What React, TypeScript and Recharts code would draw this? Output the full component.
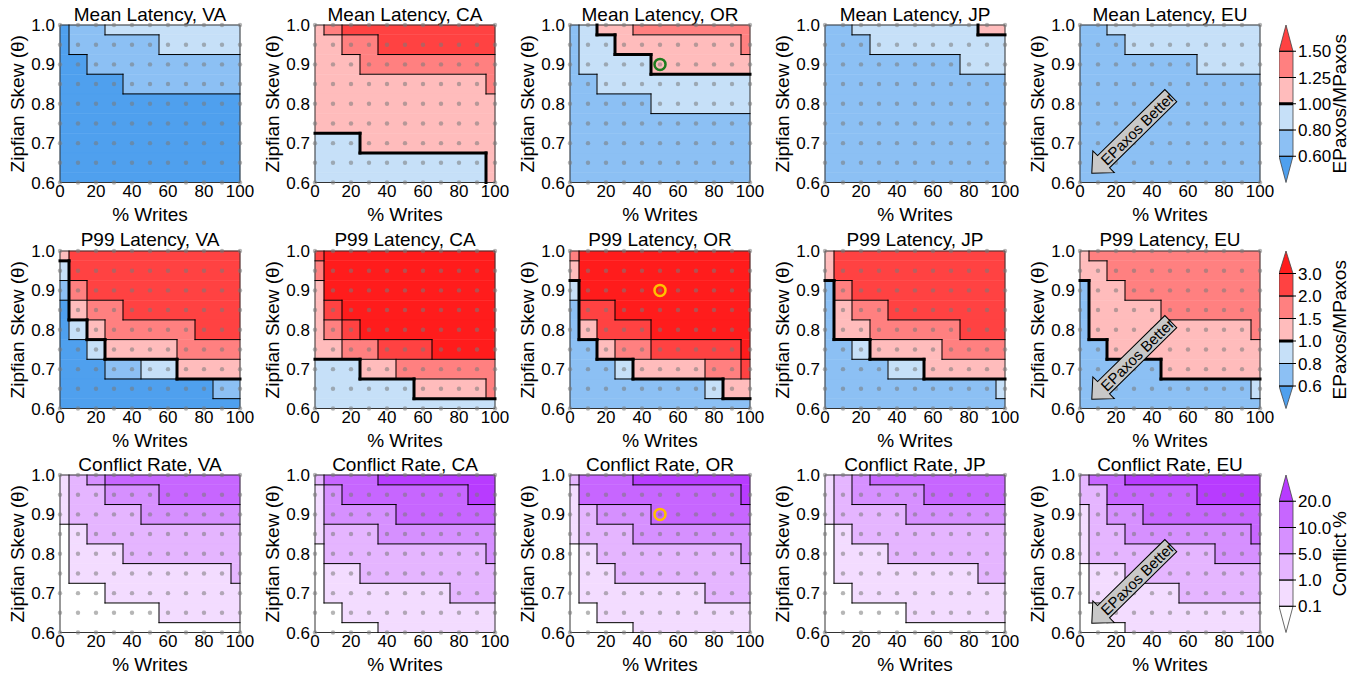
import React from 'react';
import {
  ScatterChart,
  Scatter,
  XAxis,
  YAxis,
  ReferenceArea,
  ReferenceLine,
  ReferenceDot,
  BarChart,
  Bar,
} from 'recharts';

const writes = [0, 10, 20, 30, 40, 50, 60, 70, 80, 90, 100];
const skews = [1.0, 0.95, 0.9, 0.85, 0.8, 0.75, 0.7, 0.65, 0.6];
const xTicks = [0, 20, 40, 60, 80, 100];
const yTicks = [0.6, 0.7, 0.8, 0.9, 1.0];
const regions = ['VA', 'CA', 'OR', 'JP', 'EU'];
const metrics = ['Mean Latency', 'P99 Latency', 'Conflict Rate'];

// band index of each cell, rows from skew 1.0 down to 0.6, columns 0..100 % writes
const meanVA = [
  [0, 1, 1, 2, 2, 2, 2, 2, 2, 2, 2],
  [0, 1, 1, 1, 1, 1, 2, 2, 2, 2, 2],
  [0, 0, 1, 1, 1, 1, 1, 1, 1, 1, 1],
  [0, 0, 0, 0, 1, 1, 1, 1, 1, 1, 1],
  [0, 0, 0, 0, 0, 0, 0, 0, 0, 0, 0],
  [0, 0, 0, 0, 0, 0, 0, 0, 0, 0, 0],
  [0, 0, 0, 0, 0, 0, 0, 0, 0, 0, 0],
  [0, 0, 0, 0, 0, 0, 0, 0, 0, 0, 0],
  [0, 0, 0, 0, 0, 0, 0, 0, 0, 0, 0],
];
const meanCA = [
  [3, 4, 5, 5, 5, 5, 5, 5, 5, 5, 5],
  [3, 3, 4, 4, 5, 5, 5, 5, 5, 5, 5],
  [3, 3, 3, 4, 4, 4, 4, 4, 4, 4, 4],
  [3, 3, 3, 3, 3, 3, 3, 3, 3, 3, 4],
  [3, 3, 3, 3, 3, 3, 3, 3, 3, 3, 3],
  [3, 3, 3, 3, 3, 3, 3, 3, 3, 3, 3],
  [2, 2, 2, 3, 3, 3, 3, 3, 3, 3, 3],
  [2, 2, 2, 2, 2, 2, 2, 2, 2, 2, 3],
  [2, 2, 2, 2, 2, 2, 2, 2, 2, 2, 3],
];
const meanOR = [
  [1, 2, 3, 3, 4, 4, 4, 4, 4, 4, 4],
  [1, 2, 2, 3, 3, 3, 3, 3, 3, 3, 4],
  [1, 2, 2, 2, 2, 3, 3, 3, 3, 3, 3],
  [1, 1, 2, 2, 2, 2, 2, 2, 2, 2, 2],
  [1, 1, 1, 1, 1, 2, 2, 2, 2, 2, 2],
  [1, 1, 1, 1, 1, 1, 1, 1, 1, 1, 1],
  [1, 1, 1, 1, 1, 1, 1, 1, 1, 1, 1],
  [1, 1, 1, 1, 1, 1, 1, 1, 1, 1, 1],
  [1, 1, 1, 1, 1, 1, 1, 1, 1, 1, 1],
];
const meanJP = [
  [1, 1, 2, 2, 2, 2, 2, 2, 2, 3, 3],
  [1, 1, 1, 2, 2, 2, 2, 2, 2, 2, 2],
  [1, 1, 1, 1, 1, 1, 1, 1, 2, 2, 2],
  [1, 1, 1, 1, 1, 1, 1, 1, 1, 1, 1],
  [1, 1, 1, 1, 1, 1, 1, 1, 1, 1, 1],
  [1, 1, 1, 1, 1, 1, 1, 1, 1, 1, 1],
  [1, 1, 1, 1, 1, 1, 1, 1, 1, 1, 1],
  [1, 1, 1, 1, 1, 1, 1, 1, 1, 1, 1],
  [1, 1, 1, 1, 1, 1, 1, 1, 1, 1, 1],
];
const meanEU = [
  [1, 1, 2, 2, 2, 2, 2, 2, 2, 2, 2],
  [1, 1, 1, 2, 2, 2, 2, 2, 2, 2, 2],
  [1, 1, 1, 1, 1, 1, 1, 2, 2, 2, 2],
  [1, 1, 1, 1, 1, 1, 1, 1, 1, 1, 1],
  [1, 1, 1, 1, 1, 1, 1, 1, 1, 1, 1],
  [1, 1, 1, 1, 1, 1, 1, 1, 1, 1, 1],
  [1, 1, 1, 1, 1, 1, 1, 1, 1, 1, 1],
  [1, 1, 1, 1, 1, 1, 1, 1, 1, 1, 1],
  [1, 1, 1, 1, 1, 1, 1, 1, 1, 1, 1],
];

const p99VA = [
  [3, 5, 5, 5, 5, 5, 5, 5, 5, 5, 5],
  [2, 5, 5, 5, 5, 5, 5, 5, 5, 5, 5],
  [1, 4, 5, 5, 5, 5, 5, 5, 5, 5, 5],
  [0, 3, 4, 4, 5, 5, 5, 5, 5, 5, 5],
  [0, 2, 3, 4, 4, 4, 4, 4, 5, 5, 5],
  [0, 0, 2, 3, 3, 3, 3, 4, 4, 4, 4],
  [0, 0, 0, 1, 1, 2, 2, 3, 3, 3, 3],
  [0, 0, 0, 0, 0, 0, 0, 0, 0, 1, 1],
  [0, 0, 0, 0, 0, 0, 0, 0, 0, 0, 0],
];
const p99CA = [
  [5, 6, 6, 6, 6, 6, 6, 6, 6, 6, 6],
  [4, 6, 6, 6, 6, 6, 6, 6, 6, 6, 6],
  [3, 6, 6, 6, 6, 6, 6, 6, 6, 6, 6],
  [3, 5, 6, 6, 6, 6, 6, 6, 6, 6, 6],
  [3, 4, 5, 6, 6, 6, 6, 6, 6, 6, 6],
  [3, 3, 4, 4, 5, 5, 5, 6, 6, 6, 6],
  [2, 2, 2, 3, 3, 4, 4, 4, 4, 4, 4],
  [2, 2, 2, 2, 2, 2, 3, 3, 3, 3, 4],
  [2, 2, 2, 2, 2, 2, 2, 2, 2, 2, 2],
];
const p99OR = [
  [4, 6, 6, 6, 6, 6, 6, 6, 6, 6, 6],
  [3, 6, 6, 6, 6, 6, 6, 6, 6, 6, 6],
  [2, 6, 6, 6, 6, 6, 6, 6, 6, 6, 6],
  [1, 5, 5, 6, 6, 6, 6, 6, 6, 6, 6],
  [1, 3, 5, 5, 5, 6, 6, 6, 6, 6, 6],
  [1, 1, 3, 4, 4, 5, 5, 5, 5, 5, 6],
  [1, 1, 1, 2, 3, 3, 3, 3, 4, 4, 5],
  [1, 1, 1, 1, 1, 1, 1, 1, 2, 3, 3],
  [1, 1, 1, 1, 1, 1, 1, 1, 1, 1, 1],
];
const p99JP = [
  [3, 5, 5, 5, 5, 5, 5, 5, 5, 5, 5],
  [3, 5, 5, 5, 5, 5, 5, 5, 5, 5, 5],
  [1, 4, 5, 5, 5, 5, 5, 5, 5, 5, 5],
  [1, 3, 4, 4, 5, 5, 5, 5, 5, 5, 5],
  [1, 3, 3, 4, 4, 4, 4, 4, 5, 5, 5],
  [1, 1, 2, 3, 3, 3, 3, 4, 4, 4, 4],
  [1, 1, 1, 1, 2, 2, 3, 3, 3, 3, 3],
  [1, 1, 1, 1, 1, 1, 1, 1, 1, 1, 2],
  [1, 1, 1, 1, 1, 1, 1, 1, 1, 1, 1],
];
const p99EU = [
  [3, 4, 4, 4, 4, 4, 4, 4, 4, 4, 4],
  [3, 3, 4, 4, 4, 4, 4, 4, 4, 4, 4],
  [1, 3, 3, 4, 4, 4, 4, 4, 4, 4, 4],
  [1, 3, 3, 3, 3, 4, 4, 4, 4, 4, 4],
  [1, 3, 3, 3, 3, 3, 3, 3, 3, 3, 4],
  [1, 1, 3, 3, 3, 3, 3, 3, 3, 3, 3],
  [1, 1, 1, 1, 1, 3, 3, 3, 3, 3, 3],
  [1, 1, 1, 1, 1, 1, 1, 1, 1, 1, 2],
  [1, 1, 1, 1, 1, 1, 1, 1, 1, 1, 1],
];

const conflictVA = [
  [1, 2, 3, 4, 4, 4, 4, 4, 4, 4, 4],
  [1, 2, 2, 3, 3, 3, 4, 4, 4, 4, 4],
  [1, 2, 2, 2, 2, 3, 3, 3, 3, 3, 3],
  [0, 1, 2, 2, 2, 2, 2, 2, 2, 2, 2],
  [0, 1, 1, 1, 2, 2, 2, 2, 2, 2, 2],
  [0, 1, 1, 1, 1, 1, 1, 1, 1, 1, 2],
  [0, 0, 0, 1, 1, 1, 1, 1, 1, 1, 1],
  [0, 0, 0, 0, 0, 0, 1, 1, 1, 1, 1],
  [0, 0, 0, 0, 0, 0, 0, 0, 0, 0, 0],
];
const conflictCA = [
  [2, 4, 4, 4, 5, 5, 5, 5, 5, 5, 5],
  [1, 3, 4, 4, 4, 4, 4, 4, 4, 5, 5],
  [1, 3, 3, 3, 3, 4, 4, 4, 4, 4, 4],
  [1, 2, 2, 2, 3, 3, 3, 3, 3, 3, 3],
  [0, 2, 2, 2, 2, 2, 2, 2, 2, 2, 3],
  [0, 1, 1, 2, 2, 2, 2, 2, 2, 2, 2],
  [0, 1, 1, 1, 1, 1, 1, 1, 2, 2, 2],
  [0, 0, 1, 1, 1, 1, 1, 1, 1, 1, 1],
  [0, 0, 0, 0, 1, 1, 1, 1, 1, 1, 1],
];
const conflictOR = [
  [2, 4, 4, 4, 5, 5, 5, 5, 5, 5, 5],
  [1, 4, 4, 4, 4, 4, 4, 4, 4, 4, 5],
  [1, 2, 3, 3, 3, 4, 4, 4, 4, 4, 4],
  [1, 2, 2, 2, 3, 3, 3, 3, 3, 3, 3],
  [0, 1, 2, 2, 2, 2, 2, 2, 2, 2, 3],
  [0, 1, 1, 2, 2, 2, 2, 2, 2, 2, 2],
  [0, 1, 1, 1, 1, 1, 1, 1, 2, 2, 2],
  [0, 0, 1, 1, 1, 1, 1, 1, 1, 1, 1],
  [0, 0, 0, 0, 1, 1, 1, 1, 1, 1, 1],
];
const conflictJP = [
  [1, 2, 3, 4, 4, 4, 4, 4, 4, 4, 4],
  [1, 2, 3, 3, 3, 3, 4, 4, 4, 4, 4],
  [1, 2, 2, 2, 2, 3, 3, 3, 3, 3, 3],
  [0, 1, 2, 2, 2, 2, 2, 2, 2, 2, 2],
  [0, 1, 1, 1, 2, 2, 2, 2, 2, 2, 2],
  [0, 1, 1, 1, 1, 1, 1, 1, 1, 2, 2],
  [0, 0, 1, 1, 1, 1, 1, 1, 1, 1, 1],
  [0, 0, 0, 0, 0, 1, 1, 1, 1, 1, 1],
  [0, 0, 0, 0, 0, 0, 0, 0, 0, 0, 0],
];
const conflictEU = [
  [2, 4, 4, 5, 5, 5, 5, 5, 5, 5, 5],
  [2, 2, 4, 4, 4, 4, 4, 5, 5, 5, 5],
  [1, 2, 3, 3, 4, 4, 4, 4, 4, 4, 4],
  [1, 2, 2, 3, 3, 3, 3, 3, 3, 3, 4],
  [1, 2, 2, 2, 2, 2, 2, 2, 3, 3, 3],
  [0, 1, 1, 2, 2, 2, 2, 2, 2, 2, 2],
  [0, 1, 1, 1, 1, 1, 2, 2, 2, 2, 2],
  [0, 0, 1, 1, 1, 1, 1, 1, 1, 1, 1],
  [0, 0, 0, 1, 1, 1, 1, 1, 1, 1, 1],
];

const meanColors = ['#4fa0ee', '#8cc0f4', '#c6e0f8', '#ffbcbc', '#ff8080', '#ff4242'];
const p99Colors = ['#4fa0ee', '#8cc0f4', '#c6e0f8', '#ffbcbc', '#ff8080', '#ff4242', '#ff1c1c'];
const conflictColors = ['#ffffff', '#f3dcff', '#e5b5ff', '#d690ff', '#c766ff', '#b83bff'];

const meanTicks = ['0.60', '0.80', '1.00', '1.25', '1.50'];
const p99Ticks = ['0.6', '0.8', '1.0', '1.5', '2.0', '3.0'];
const conflictTicks = ['0.1', '1.0', '5.0', '10.0', '20.0'];

const ringColors = ['#1e7b1e', '#ffc000', '#ffc000'];

const PLOT_H = 157.5;
const TOP_PAD = 12;
const rowTops = [25, 250.5, 475];
const colLefts = [60, 315, 570, 825, 1080];
const FONT = "'Liberation Sans', Arial, Helvetica, sans-serif";

const rows = [
  { grids: [meanVA, meanCA, meanOR, meanJP, meanEU], colors: meanColors, thickAt: 3, ticks: meanTicks, unit: 'EPaxos/MPaxos' },
  { grids: [p99VA, p99CA, p99OR, p99JP, p99EU], colors: p99Colors, thickAt: 3, ticks: p99Ticks, unit: 'EPaxos/MPaxos' },
  { grids: [conflictVA, conflictCA, conflictOR, conflictJP, conflictEU], colors: conflictColors, thickAt: null, ticks: conflictTicks, unit: 'Conflict %' },
];

const dots = writes.flatMap((x) => skews.map((y) => ({ x, y })));

const lo = (i: number) => Math.max(0, writes[i] - 5);
const hi = (i: number) => Math.min(100, writes[i] + 5);
const top = (k: number) => Math.min(1, skews[k] + 0.025);
const bot = (k: number) => Math.max(0.6, skews[k] - 0.025);

// merge runs of equal cells in a row into one filled area
function bandCells(grid: number[][]) {
  const out: { x1: number; x2: number; y1: number; y2: number; level: number }[] = [];
  grid.forEach((row, k) => {
    let start = 0;
    for (let i = 1; i <= row.length; i++) {
      if (i === row.length || row[i] !== row[start]) {
        out.push({ x1: lo(start), x2: hi(i - 1), y1: bot(k), y2: top(k), level: row[start] });
        start = i;
      }
    }
  });
  return out;
}

// contour lines along cell edges where the band changes
function contourSegments(grid: number[][], thickAt: number | null) {
  const kind = (a: number, b: number) => {
    if (a === b) return 0;
    if (thickAt != null && (a >= thickAt) !== (b >= thickAt)) return 2;
    return 1;
  };
  const segs: { x1: number; y1: number; x2: number; y2: number; thick: boolean }[] = [];
  const n = writes.length;
  for (let k = 0; k < skews.length - 1; k++) {
    const y = (skews[k] + skews[k + 1]) / 2;
    let cur = 0;
    let start = 0;
    for (let i = 0; i <= n; i++) {
      const kd = i < n ? kind(grid[k][i], grid[k + 1][i]) : 0;
      if (kd !== cur) {
        if (cur) segs.push({ x1: lo(start), x2: hi(i - 1), y1: y, y2: y, thick: cur === 2 });
        cur = kd;
        start = i;
      }
    }
  }
  for (let i = 0; i < n - 1; i++) {
    const x = writes[i] + 5;
    let cur = 0;
    let start = 0;
    for (let k = 0; k <= skews.length; k++) {
      const kd = k < skews.length ? kind(grid[k][i], grid[k][i + 1]) : 0;
      if (kd !== cur) {
        if (cur) segs.push({ x1: x, x2: x, y1: bot(k - 1), y2: top(start), thick: cur === 2 });
        cur = kd;
        start = k;
      }
    }
  }
  return segs;
}

const renderDot = (p: any) => (
  <circle cx={p.cx} cy={p.cy} r={2.2} fill="#7a7a7a" fillOpacity={0.55} />
);

const renderArrow = (p: any) => (
  <g transform={`translate(${p.cx},${p.cy}) rotate(135.5)`}>
    <polygon
      points="-55.4,-8.5 38.9,-8.5 38.9,-15.3 55.4,0 38.9,15.3 38.9,8.5 -55.4,8.5"
      fill="#c8c8c8"
      stroke="#000"
      strokeWidth={1}
    />
    <text x={8.3} y={0} transform="rotate(180)" textAnchor="middle" dominantBaseline="central" fontSize={15} fill="#000">
      EPaxos Better
    </text>
  </g>
);

const xLabel = (p: any) => {
  const vb = p.viewBox;
  return (
    <text x={vb.x + vb.width / 2} y={vb.y + 38} textAnchor="middle" fontSize={19} fill="#000">
      % Writes
    </text>
  );
};

const yLabel = (p: any) => {
  const vb = p.viewBox;
  const cx = vb.x + 17;
  const cy = vb.y + vb.height / 2;
  return (
    <text x={cx} y={cy} dy="0.35em" transform={`rotate(-90 ${cx} ${cy})`} textAnchor="middle" fontSize={19} fill="#000">
      Zipfian Skew (θ)
    </text>
  );
};

function Panel({ grid, colors, thickAt, title, left, plotTop, ring, arrow }: any) {
  const cells = bandCells(grid);
  const segs = contourSegments(grid, thickAt);
  return (
    <div style={{ position: 'absolute', left: left - 60, top: plotTop - TOP_PAD }}>
      <div
        style={{
          position: 'absolute',
          left: 30,
          top: TOP_PAD - 20.4,
          width: 240,
          textAlign: 'center',
          fontSize: 19,
          lineHeight: '19px',
          whiteSpace: 'nowrap',
        }}
      >
        {title}
      </div>
      <ScatterChart width={255} height={PLOT_H + 42 + TOP_PAD} margin={{ top: TOP_PAD, right: 15, bottom: 0, left: 0 }}>
        <XAxis
          type="number"
          dataKey="x"
          domain={[0, 100]}
          ticks={xTicks}
          interval={0}
          height={42}
          axisLine={false}
          tickLine={false}
          tickSize={0}
          tickMargin={2}
          tick={{ fontSize: 17, fill: '#000' }}
          label={xLabel}
        />
        <YAxis
          type="number"
          dataKey="y"
          domain={[0.6, 1]}
          ticks={yTicks}
          interval={0}
          width={60}
          axisLine={false}
          tickLine={false}
          tickSize={0}
          tickMargin={5}
          tickFormatter={(v: number) => v.toFixed(1)}
          tick={{ fontSize: 17, fill: '#000' }}
          label={yLabel}
        />
        {cells.map((c, i) => (
          <ReferenceArea
            key={'c' + i}
            x1={c.x1}
            x2={c.x2}
            y1={c.y1}
            y2={c.y2}
            fill={colors[c.level]}
            fillOpacity={1}
            stroke={colors[c.level]}
            strokeWidth={0.5}
          />
        ))}
        <Scatter data={dots} shape={renderDot} isAnimationActive={false} />
        {segs
          .filter((s) => !s.thick)
          .map((s, i) => (
            <ReferenceLine
              key={'t' + i}
              segment={[{ x: s.x1, y: s.y1 }, { x: s.x2, y: s.y2 }]}
              stroke="#000"
              strokeWidth={1}
              strokeLinecap="square"
            />
          ))}
        {segs
          .filter((s) => s.thick)
          .map((s, i) => (
            <ReferenceLine
              key={'k' + i}
              segment={[{ x: s.x1, y: s.y1 }, { x: s.x2, y: s.y2 }]}
              stroke="#000"
              strokeWidth={3}
              strokeLinecap="square"
            />
          ))}
        <ReferenceArea x1={0} x2={100} y1={0.6} y2={1} fill="none" stroke="#333" strokeWidth={1} />
        {ring && <ReferenceDot x={50} y={0.9} r={5.5} fill="none" stroke={ring} strokeWidth={2.5} />}
        {arrow && <ReferenceDot x={28.5} y={0.722} r={1} shape={renderArrow} />}
      </ScatterChart>
    </div>
  );
}

function ColorBar({ colors, labels, unit, thickAt, plotTop }: any) {
  const n = colors.length;
  const row: Record<string, number | string> = { name: 'bar' };
  colors.forEach((_: string, i: number) => {
    row['s' + i] = 1;
  });
  const seg = (i: number) => (p: any) => {
    const { x, y, width: w, height: h } = p;
    if (i === 0) {
      return <polygon points={`${x},${y} ${x + w},${y} ${x + w / 2},${y + h}`} fill={colors[i]} stroke="#444" strokeWidth={0.8} />;
    }
    if (i === n - 1) {
      return <polygon points={`${x},${y + h} ${x + w},${y + h} ${x + w / 2},${y}`} fill={colors[i]} stroke="#444" strokeWidth={0.8} />;
    }
    return <rect x={x} y={y} width={w} height={h} fill={colors[i]} stroke="#444" strokeWidth={0.8} />;
  };
  const unitLabel = (p: any) => {
    const vb = p.viewBox;
    const cx = vb.x + 46;
    const cy = vb.y + vb.height / 2;
    return (
      <text x={cx} y={cy} dy="0.35em" transform={`rotate(-90 ${cx} ${cy})`} textAnchor="middle" fontSize={19} fill="#000">
        {unit}
      </text>
    );
  };
  return (
    <div style={{ position: 'absolute', left: 1279, top: plotTop - TOP_PAD }}>
      <BarChart
        width={84}
        height={PLOT_H + 2 * TOP_PAD}
        data={[row]}
        margin={{ top: TOP_PAD, right: 0, bottom: TOP_PAD, left: 0 }}
        barCategoryGap={0}
      >
        <XAxis dataKey="name" hide />
        <YAxis
          type="number"
          orientation="right"
          domain={[0, n]}
          ticks={labels.map((_: string, i: number) => i + 1)}
          interval={0}
          width={70}
          axisLine={false}
          tickSize={3}
          tickMargin={2}
          tickLine={{ stroke: '#000' }}
          tickFormatter={(v: number) => labels[v - 1]}
          tick={{ fontSize: 17, fill: '#000' }}
          label={unitLabel}
        />
        {colors.map((c: string, i: number) => (
          <Bar key={i} dataKey={'s' + i} stackId="cb" fill={c} shape={seg(i)} isAnimationActive={false} />
        ))}
        {labels.map((_: string, i: number) => (
          <ReferenceLine key={'l' + i} y={i + 1} stroke="#000" strokeWidth={i + 1 === thickAt ? 3 : 1} />
        ))}
      </BarChart>
    </div>
  );
}

export default function App() {
  return (
    <div
      style={{
        position: 'absolute',
        left: 0,
        top: 0,
        width: 1359,
        height: 673,
        background: '#fff',
        fontFamily: FONT,
        color: '#000',
      }}
    >
      {rows.map((r, ri) => (
        <React.Fragment key={ri}>
          {r.grids.map((g, ci) => (
            <Panel
              key={ci}
              grid={g}
              colors={r.colors}
              thickAt={r.thickAt}
              title={`${metrics[ri]}, ${regions[ci]}`}
              left={colLefts[ci]}
              plotTop={rowTops[ri]}
              ring={regions[ci] === 'OR' ? ringColors[ri] : null}
              arrow={regions[ci] === 'EU'}
            />
          ))}
          <ColorBar colors={r.colors} labels={r.ticks} unit={r.unit} thickAt={r.thickAt} plotTop={rowTops[ri]} />
        </React.Fragment>
      ))}
    </div>
  );
}
